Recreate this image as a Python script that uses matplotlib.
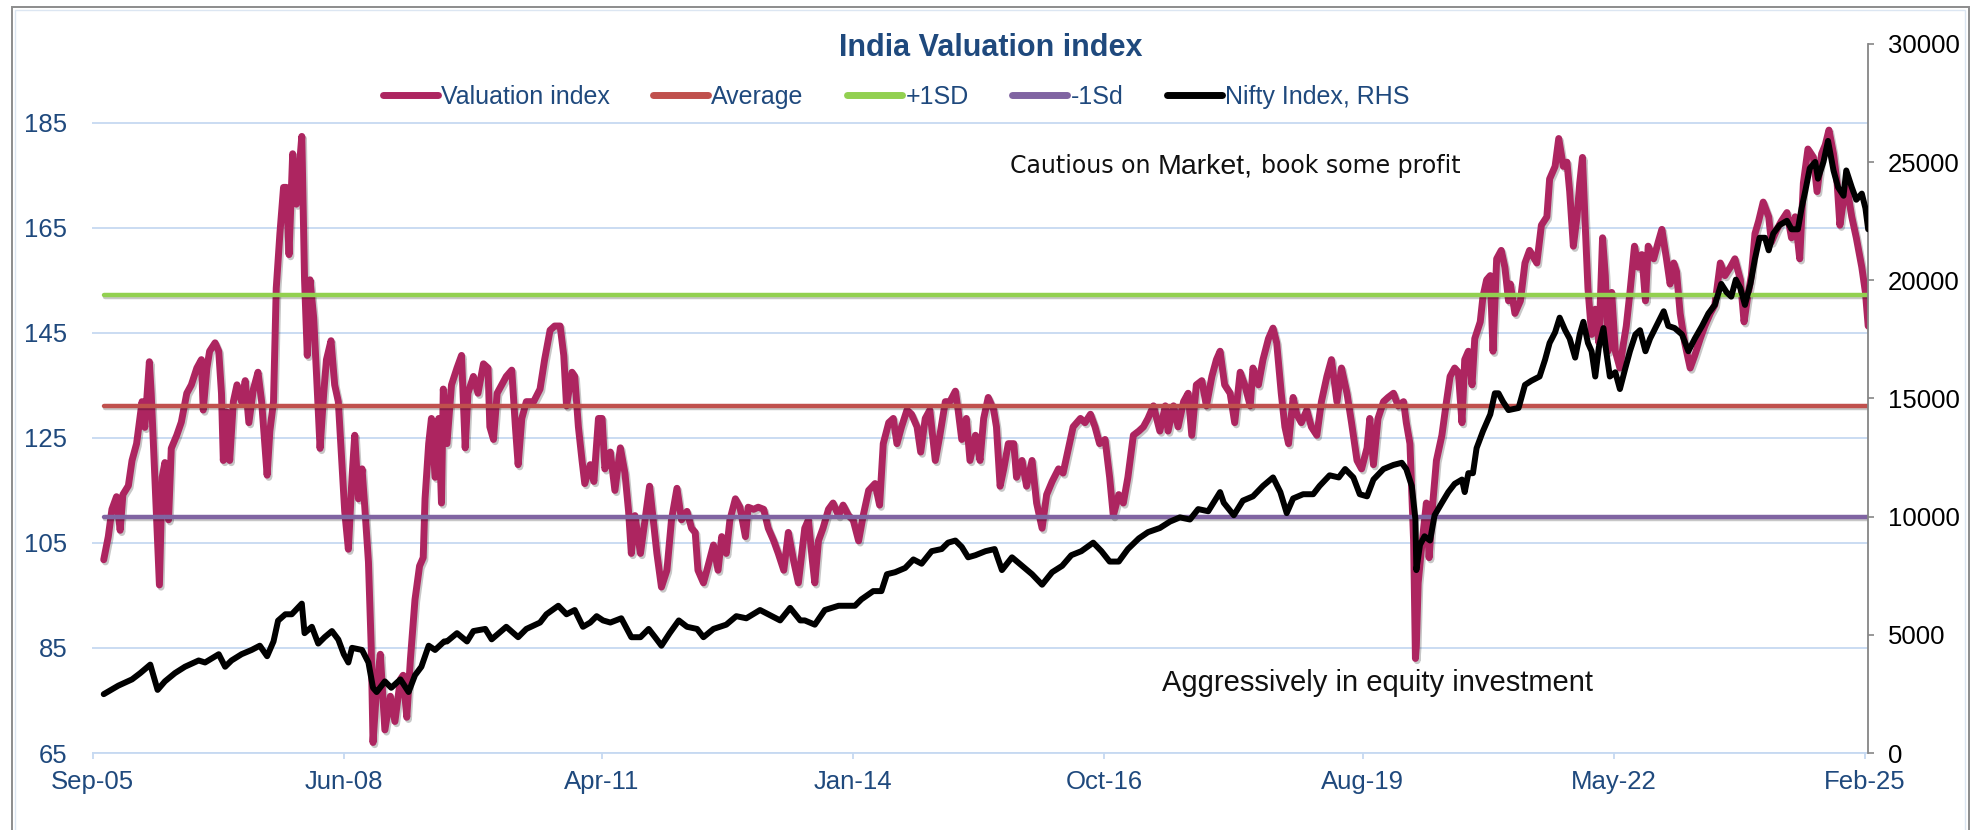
import matplotlib
matplotlib.use("Agg")
import matplotlib.pyplot as plt
import matplotlib.patheffects as pe
from matplotlib.lines import Line2D
from matplotlib.patches import Rectangle

# ---------------- data ----------------
val_years = [
    2005.79, 2005.84, 2005.88, 2005.93, 2005.97, 2006.00, 2006.06, 2006.10, 2006.15, 2006.21,
    2006.24, 2006.29, 2006.31, 2006.35, 2006.40, 2006.43, 2006.46, 2006.50, 2006.53, 2006.59,
    2006.64, 2006.70, 2006.75, 2006.81, 2006.86, 2006.88, 2006.92, 2006.95, 2007.01, 2007.05,
    2007.08, 2007.10, 2007.14, 2007.17, 2007.21, 2007.25, 2007.30, 2007.34, 2007.38, 2007.43,
    2007.48, 2007.52, 2007.58, 2007.61, 2007.65, 2007.68, 2007.72, 2007.76, 2007.79, 2007.82,
    2007.86, 2007.90, 2007.96, 2007.99, 2008.02, 2008.05, 2008.09, 2008.12, 2008.16, 2008.20,
    2008.23, 2008.28, 2008.32, 2008.36, 2008.40, 2008.43, 2008.47, 2008.51, 2008.54, 2008.58,
    2008.62, 2008.65, 2008.69, 2008.72, 2008.74, 2008.78, 2008.82, 2008.87, 2008.93, 2008.98,
    2009.04, 2009.07, 2009.11, 2009.15, 2009.20, 2009.25, 2009.29, 2009.31, 2009.35, 2009.38,
    2009.42, 2009.46, 2009.49, 2009.51, 2009.55, 2009.60, 2009.66, 2009.71, 2009.75, 2009.78,
    2009.84, 2009.89, 2009.95, 2010.00, 2010.02, 2010.06, 2010.10, 2010.15, 2010.20, 2010.26,
    2010.30, 2010.33, 2010.37, 2010.42, 2010.50, 2010.57, 2010.62, 2010.68, 2010.73, 2010.79,
    2010.83, 2010.86, 2010.92, 2010.95, 2010.99, 2011.03, 2011.06, 2011.12, 2011.16, 2011.21,
    2011.25, 2011.28, 2011.34, 2011.39, 2011.45, 2011.50, 2011.54, 2011.57, 2011.61, 2011.67,
    2011.72, 2011.77, 2011.81, 2011.85, 2011.90, 2011.96, 2012.01, 2012.07, 2012.12, 2012.18,
    2012.23, 2012.27, 2012.30, 2012.36, 2012.41, 2012.47, 2012.52, 2012.56, 2012.61, 2012.65,
    2012.71, 2012.76, 2012.82, 2012.85, 2012.91, 2012.96, 2013.02, 2013.07, 2013.13, 2013.18,
    2013.24, 2013.29, 2013.35, 2013.40, 2013.47, 2013.51, 2013.55, 2013.58, 2013.62, 2013.67,
    2013.73, 2013.78, 2013.84, 2013.89, 2013.95, 2014.00, 2014.06, 2014.11, 2014.17, 2014.24,
    2014.29, 2014.33, 2014.39, 2014.44, 2014.48, 2014.53, 2014.59, 2014.64, 2014.70, 2014.74,
    2014.79, 2014.84, 2014.90, 2014.95, 2015.01, 2015.06, 2015.12, 2015.15, 2015.19, 2015.24,
    2015.28, 2015.34, 2015.39, 2015.43, 2015.48, 2015.54, 2015.57, 2015.61, 2015.65, 2015.70,
    2015.76, 2015.79, 2015.85, 2015.90, 2015.96, 2016.01, 2016.07, 2016.12, 2016.18, 2016.25,
    2016.30, 2016.36, 2016.41, 2016.49, 2016.54, 2016.60, 2016.65, 2016.70, 2016.76, 2016.81,
    2016.85, 2016.91, 2016.96, 2017.01, 2017.07, 2017.13, 2017.18, 2017.23, 2017.29, 2017.36,
    2017.42, 2017.45, 2017.51, 2017.56, 2017.62, 2017.67, 2017.71, 2017.76, 2017.82, 2017.87,
    2017.93, 2017.98, 2018.02, 2018.07, 2018.13, 2018.18, 2018.24, 2018.29, 2018.35, 2018.38,
    2018.44, 2018.49, 2018.55, 2018.60, 2018.64, 2018.69, 2018.73, 2018.77, 2018.82, 2018.86,
    2018.91, 2018.97, 2019.02, 2019.08, 2019.13, 2019.19, 2019.24, 2019.30, 2019.35, 2019.41,
    2019.46, 2019.52, 2019.57, 2019.63, 2019.66, 2019.70, 2019.75, 2019.81, 2019.86, 2019.92,
    2019.97, 2020.03, 2020.06, 2020.10, 2020.14, 2020.16, 2020.17, 2020.19, 2020.23, 2020.28,
    2020.31, 2020.35, 2020.39, 2020.45, 2020.50, 2020.54, 2020.59, 2020.63, 2020.67, 2020.70,
    2020.74, 2020.78, 2020.81, 2020.87, 2020.90, 2020.94, 2020.98, 2021.01, 2021.05, 2021.10,
    2021.14, 2021.18, 2021.20, 2021.25, 2021.31, 2021.36, 2021.41, 2021.49, 2021.54, 2021.60,
    2021.63, 2021.69, 2021.73, 2021.78, 2021.82, 2021.85, 2021.89, 2021.93, 2021.96, 2021.99,
    2022.02, 2022.05, 2022.09, 2022.13, 2022.17, 2022.21, 2022.24, 2022.27, 2022.31, 2022.35,
    2022.40, 2022.44, 2022.47, 2022.51, 2022.56, 2022.60, 2022.64, 2022.68, 2022.71, 2022.77,
    2022.82, 2022.86, 2022.91, 2022.95, 2022.99, 2023.02, 2023.06, 2023.11, 2023.17, 2023.22,
    2023.28, 2023.33, 2023.39, 2023.44, 2023.50, 2023.55, 2023.61, 2023.66, 2023.72, 2023.76,
    2023.80, 2023.84, 2023.88, 2023.92, 2023.97, 2024.03, 2024.06, 2024.12, 2024.17, 2024.23,
    2024.28, 2024.32, 2024.37, 2024.41, 2024.46, 2024.52, 2024.56, 2024.61, 2024.65, 2024.69,
    2024.74, 2024.78, 2024.81, 2024.85, 2024.88, 2024.94, 2024.99, 2025.05, 2025.09, 2025.12,
]
val_index = [
    101.8, 106.2, 111.4, 113.8, 107.4, 114.2, 115.9, 120.7, 123.9, 131.9,
    127.0, 139.5, 133.5, 117.5, 97.0, 117.5, 120.3, 109.4, 123.0, 125.5,
    128.0, 133.5, 135.1, 138.3, 139.9, 130.3, 138.3, 141.5, 143.1, 141.5,
    133.5, 120.7, 129.9, 120.7, 131.9, 135.1, 131.9, 135.9, 127.9, 134.3,
    137.5, 131.9, 117.9, 126.3, 131.9, 153.5, 163.9, 172.7, 172.7, 159.9,
    179.1, 169.5, 182.4, 155.1, 140.7, 155.1, 147.9, 137.5, 123.0, 133.5,
    139.9, 143.5, 135.1, 131.9, 119.9, 111.0, 103.8, 117.5, 125.5, 113.4,
    119.1, 111.8, 101.4, 85.4, 67.0, 77.4, 83.8, 69.4, 75.8, 71.0,
    79.0, 79.8, 71.8, 82.9, 94.2, 100.6, 102.2, 113.4, 123.9, 128.7,
    117.5, 128.7, 112.6, 134.3, 123.9, 135.1, 138.3, 140.7, 123.1, 133.5,
    136.7, 133.5, 139.1, 138.3, 127.1, 124.7, 133.5, 135.1, 136.7, 137.9,
    127.1, 119.9, 128.7, 131.9, 131.9, 134.3, 139.9, 145.5, 146.3, 146.3,
    140.7, 131.1, 137.5, 136.7, 127.1, 120.7, 116.3, 119.9, 116.7, 128.7,
    128.7, 119.1, 122.3, 115.0, 123.1, 118.3, 111.0, 103.0, 110.2, 103.0,
    109.4, 115.8, 109.4, 103.0, 96.6, 99.8, 109.4, 115.4, 109.4, 111.0,
    107.8, 107.0, 99.8, 97.4, 100.6, 104.6, 99.8, 106.2, 103.0, 109.4,
    113.4, 111.8, 106.2, 111.8, 111.4, 111.8, 111.4, 107.8, 105.4, 103.0,
    99.8, 107.0, 101.4, 97.4, 107.8, 109.4, 102.2, 97.4, 105.4, 107.8,
    111.4, 112.6, 110.2, 112.2, 110.2, 109.4, 105.4, 110.2, 115.0, 116.3,
    112.2, 123.9, 127.9, 128.7, 123.9, 127.1, 130.3, 129.5, 127.1, 122.3,
    128.7, 130.3, 120.7, 125.5, 131.9, 131.9, 133.9, 130.3, 124.7, 128.7,
    120.7, 125.5, 120.7, 128.7, 132.7, 130.3, 127.1, 115.8, 119.1, 123.9,
    123.9, 117.5, 120.7, 115.8, 120.7, 112.6, 107.8, 114.2, 116.7, 119.1,
    118.3, 123.1, 127.1, 128.7, 127.9, 129.5, 127.1, 123.9, 124.7, 117.5,
    110.2, 114.2, 112.6, 117.5, 125.5, 126.3, 127.1, 128.7, 131.1, 126.3,
    131.1, 126.3, 131.1, 127.1, 131.9, 133.5, 125.5, 135.1, 135.9, 131.1,
    136.7, 139.9, 141.5, 135.1, 133.5, 127.9, 137.5, 135.1, 131.1, 138.3,
    135.1, 139.9, 143.9, 145.9, 143.1, 133.5, 127.1, 123.9, 132.7, 129.5,
    127.9, 130.3, 127.1, 125.5, 131.9, 136.7, 139.9, 131.9, 138.3, 133.5,
    127.9, 120.7, 119.1, 123.1, 128.7, 119.9, 128.7, 131.9, 132.7, 133.5,
    131.1, 131.9, 127.9, 123.9, 105.4, 83.0, 85.4, 97.4, 104.6, 112.6,
    102.2, 112.6, 120.7, 125.5, 131.9, 136.7, 138.3, 137.5, 127.9, 139.9,
    141.5, 135.1, 143.9, 147.1, 151.9, 155.1, 155.9, 141.5, 159.1, 160.7,
    157.5, 151.1, 154.3, 148.7, 151.1, 158.3, 160.7, 158.3, 165.5, 167.1,
    174.3, 176.7, 182.0, 176.7, 177.5, 171.9, 161.5, 167.1, 173.5, 178.4,
    165.5, 153.5, 144.7, 149.5, 143.1, 163.1, 155.9, 141.5, 152.7, 141.5,
    138.3, 143.1, 146.3, 152.7, 161.5, 157.5, 159.9, 151.1, 161.5, 159.1,
    162.3, 164.7, 159.1, 154.3, 158.3, 156.7, 148.7, 143.1, 138.3, 140.7,
    143.9, 146.3, 148.7, 150.3, 158.3, 155.9, 157.5, 159.1, 155.1, 147.1,
    151.9, 155.9, 163.9, 166.3, 169.9, 167.1, 162.3, 164.7, 166.3, 167.9,
    163.1, 167.1, 159.1, 173.5, 180.0, 178.4, 171.9, 179.1, 180.8, 183.6,
    179.1, 173.5, 165.5, 170.3, 173.5, 167.1, 163.1, 157.5, 152.7, 146.3,
]

nifty_years = [
    2005.79, 2005.95, 2006.10, 2006.19, 2006.30, 2006.38, 2006.46, 2006.57, 2006.68, 2006.83,
    2006.90, 2007.05, 2007.12, 2007.19, 2007.30, 2007.41, 2007.50, 2007.58, 2007.65, 2007.70,
    2007.78, 2007.85, 2007.96, 2007.99, 2008.07, 2008.14, 2008.21, 2008.29, 2008.36, 2008.42,
    2008.47, 2008.51, 2008.62, 2008.69, 2008.74, 2008.78, 2008.87, 2008.94, 2009.04, 2009.13,
    2009.20, 2009.27, 2009.35, 2009.42, 2009.52, 2009.55, 2009.66, 2009.77, 2009.84, 2009.97,
    2010.04, 2010.20, 2010.33, 2010.42, 2010.57, 2010.64, 2010.77, 2010.86, 2010.95, 2011.04,
    2011.12, 2011.19, 2011.26, 2011.34, 2011.46, 2011.57, 2011.67, 2011.76, 2011.83, 2011.90,
    2011.99, 2012.09, 2012.18, 2012.29, 2012.36, 2012.47, 2012.61, 2012.72, 2012.83, 2012.98,
    2013.07, 2013.20, 2013.31, 2013.42, 2013.47, 2013.58, 2013.69, 2013.84, 2014.02, 2014.09,
    2014.22, 2014.31, 2014.37, 2014.46, 2014.57, 2014.66, 2014.75, 2014.86, 2014.97, 2015.04,
    2015.12, 2015.19, 2015.26, 2015.34, 2015.45, 2015.55, 2015.63, 2015.74, 2015.85, 2015.96,
    2016.07, 2016.18, 2016.29, 2016.39, 2016.50, 2016.63, 2016.72, 2016.81, 2016.91, 2017.01,
    2017.13, 2017.23, 2017.36, 2017.47, 2017.58, 2017.69, 2017.78, 2017.89, 2018.02, 2018.06,
    2018.17, 2018.27, 2018.38, 2018.49, 2018.60, 2018.68, 2018.75, 2018.82, 2018.93, 2019.04,
    2019.11, 2019.22, 2019.32, 2019.39, 2019.48, 2019.55, 2019.63, 2019.70, 2019.81, 2019.92,
    2020.01, 2020.06, 2020.12, 2020.16, 2020.17, 2020.21, 2020.26, 2020.32, 2020.37, 2020.45,
    2020.52, 2020.59, 2020.67, 2020.70, 2020.74, 2020.79, 2020.83, 2020.90, 2020.98, 2021.03,
    2021.07, 2021.12, 2021.18, 2021.29, 2021.36, 2021.43, 2021.52, 2021.58, 2021.63, 2021.69,
    2021.74, 2021.80, 2021.85, 2021.91, 2021.96, 2022.00, 2022.05, 2022.09, 2022.13, 2022.17,
    2022.22, 2022.25, 2022.29, 2022.35, 2022.40, 2022.46, 2022.51, 2022.57, 2022.62, 2022.68,
    2022.73, 2022.80, 2022.88, 2022.93, 2023.00, 2023.08, 2023.15, 2023.22, 2023.30, 2023.37,
    2023.44, 2023.51, 2023.57, 2023.62, 2023.67, 2023.72, 2023.77, 2023.83, 2023.88, 2023.93,
    2023.99, 2024.03, 2024.08, 2024.15, 2024.23, 2024.28, 2024.35, 2024.39, 2024.43, 2024.48,
    2024.54, 2024.57, 2024.63, 2024.68, 2024.74, 2024.79, 2024.85, 2024.88, 2024.94, 2024.99,
    2025.05, 2025.09, 2025.12,
]
nifty_index = [
    2490, 2850, 3115, 3380, 3740, 2670, 3030, 3380, 3650, 3915,
    3830, 4180, 3650, 3915, 4180, 4360, 4540, 4095, 4720, 5600,
    5870, 5870, 6320, 5070, 5340, 4630, 4900, 5160, 4800, 4180,
    3830, 4450, 4360, 3830, 2760, 2580, 3030, 2760, 3115, 2580,
    3290, 3650, 4540, 4360, 4720, 4720, 5070, 4720, 5160, 5250,
    4810, 5340, 4900, 5250, 5520, 5870, 6230, 5870, 6050, 5340,
    5520, 5790, 5610, 5520, 5700, 4900, 4900, 5250, 4900, 4540,
    5070, 5610, 5340, 5250, 4900, 5250, 5430, 5790, 5700, 6050,
    5870, 5610, 6140, 5610, 5610, 5430, 6050, 6230, 6230, 6500,
    6850, 6850, 7565, 7650, 7830, 8190, 8010, 8540, 8630, 8900,
    8990, 8720, 8280, 8370, 8540, 8630, 7740, 8280, 7920, 7565,
    7120, 7650, 7920, 8370, 8540, 8900, 8540, 8100, 8100, 8630,
    9080, 9345, 9520, 9790, 9970, 9880, 10320, 10230, 11040, 10590,
    10060, 10680, 10860, 11300, 11660, 11040, 10150, 10770, 10950, 10950,
    11300, 11750, 11660, 12015, 11660, 10950, 10860, 11570, 12015, 12190,
    12280, 12015, 11300, 9880, 7740, 8810, 9170, 8990, 10060, 10590,
    11040, 11390, 11570, 11040, 11840, 11840, 12900, 13620, 14330, 15220,
    15220, 14860, 14510, 14600, 15575, 15750, 15930, 16640, 17350, 17800,
    18420, 17890, 17530, 16730, 17710, 18245, 17350, 17000, 15930, 17180,
    17980, 17000, 15930, 16110, 15400, 16290, 17000, 17710, 17890, 17000,
    17530, 18070, 18690, 18070, 17980, 17710, 17000, 17530, 18070, 18600,
    18960, 19850, 19490, 19310, 20030, 19670, 18960, 19850, 20920, 21800,
    21800, 21270, 21980, 22340, 22520, 22160, 22160, 23050, 23760, 24740,
    25010, 24300, 25010, 25900, 24650, 23940, 23580, 24650, 23940, 23410,
    23670, 23050, 22160,
]

average = 131.1
plus_1sd = 152.3
minus_1sd = 109.9

tick_years = [2005.667, 2008.417, 2011.25, 2014.0, 2016.75, 2019.583, 2022.333, 2025.083]
tick_labels = ["Sep-05", "Jun-08", "Apr-11", "Jan-14", "Oct-16", "Aug-19", "May-22", "Feb-25"]
left_ticks = [65, 85, 105, 125, 145, 165, 185]
right_ticks = [0, 5000, 10000, 15000, 20000, 25000, 30000]

# ---------------- style ----------------
plt.rcParams["font.family"] = ["Liberation Sans", "DejaVu Sans"]
NAVY = "#1F497D"
GRID = "#C6D9F1"
C_VAL = "#AD2560"
C_AVG = "#C0504D"
C_UP = "#92D050"
C_DN = "#8064A2"

W, H = 1981, 830
fig = plt.figure(figsize=(W / 100, H / 100), dpi=100)
fig.patch.set_facecolor("white")

# frame around the chart
fig.patches.append(Rectangle((12 / W, -0.1), 1957 / W, 1.1 - 7 / H, transform=fig.transFigure,
                             fill=False, edgecolor="#8C8C8C", lw=1.4))
fig.patches.append(Rectangle((15.5 / W, -0.1), 1950 / W, 1.1 - 10.5 / H, transform=fig.transFigure,
                             fill=False, edgecolor="#DCE6F2", lw=1.0))

x0, x1 = 92.5, 1868
y_top, y_bot = 44, 753
ax = fig.add_axes([x0 / W, 1 - y_bot / H, (x1 - x0) / W, (y_bot - y_top) / H])
ax.set_xlim(2005.667, 2025.118)
ax.set_ylim(65, 200)
ax.patch.set_alpha(0)

shadow = [pe.SimpleLineShadow(offset=(1.2, -1.6), shadow_color="black", alpha=0.22), pe.Normal()]

ax.plot(val_years, val_index, color=C_VAL, lw=5.0, solid_joinstyle="round",
        solid_capstyle="round", path_effects=shadow, zorder=3)
span = [val_years[0], val_years[-1]]
ax.plot(span, [average] * 2, color=C_AVG, lw=3.2, solid_capstyle="round", path_effects=shadow, zorder=4)
ax.plot(span, [plus_1sd] * 2, color=C_UP, lw=3.2, solid_capstyle="round", path_effects=shadow, zorder=4)
ax.plot(span, [minus_1sd] * 2, color=C_DN, lw=3.2, solid_capstyle="round", path_effects=shadow, zorder=4)

ax.set_yticks(left_ticks)
ax.yaxis.grid(True, color=GRID, lw=1.3)
ax.set_axisbelow(True)
ax.tick_params(axis="y", length=0, pad=18, labelsize=18.5, labelcolor=NAVY)
ax.set_xticks(tick_years, tick_labels)
ax.tick_params(axis="x", direction="out", length=4, width=1.3, color=GRID, pad=8,
               labelsize=18.5, labelcolor=NAVY)
for s in ["left", "right", "top"]:
    ax.spines[s].set_visible(False)
ax.spines["bottom"].set_color(GRID)
ax.spines["bottom"].set_linewidth(1.3)

ax2 = ax.twinx()
ax2.set_ylim(0, 30000)
ax2.plot(nifty_years, nifty_index, color="black", lw=4.3, solid_joinstyle="round",
         solid_capstyle="round", zorder=5)
ax2.set_yticks(right_ticks, [str(t) for t in right_ticks])
ax2.tick_params(axis="y", direction="out", length=4, width=1.2, color="#868686", pad=10.5,
                labelsize=18.5, labelcolor="black")
for s in ["left", "top", "bottom"]:
    ax2.spines[s].set_visible(False)
ax2.spines["right"].set_color("#868686")
ax2.spines["right"].set_linewidth(1.3)

# annotations
ax.text(2015.72, 175.4, "Cautious on", fontfamily="DejaVu Sans", fontsize=17, va="baseline", color="#111111")
ax.text(2017.34, 175.4, "Market,", fontfamily="Liberation Sans", fontsize=20.5, va="baseline", color="#111111")
ax.text(2018.47, 175.4, "book some profit", fontfamily="DejaVu Sans", fontsize=17, va="baseline", color="#111111")
ax.text(2017.38, 76.8, "Aggressively in equity investment", fontfamily="Liberation Sans", fontsize=21,
        va="baseline", color="#111111")

# title
fig.text(991 / W, 1 - 48 / H, "India Valuation index", ha="center", va="center",
         fontsize=22, fontweight="bold", color=NAVY)

# legend
handles = [
    Line2D([], [], color=C_VAL, lw=5, solid_capstyle="round"),
    Line2D([], [], color=C_AVG, lw=5, solid_capstyle="round"),
    Line2D([], [], color=C_UP, lw=5, solid_capstyle="round"),
    Line2D([], [], color=C_DN, lw=5, solid_capstyle="round"),
    Line2D([], [], color="black", lw=5, solid_capstyle="round"),
]
labels = ["Valuation index", "Average", "+1SD", "-1Sd", "Nifty Index, RHS"]
fig.legend(handles, labels, loc="center", bbox_to_anchor=(896 / W, 1 - 97 / H), ncol=5,
           frameon=False, fontsize=18, handlelength=2.2, handletextpad=0.12,
           columnspacing=1.75, labelcolor=NAVY)

fig.savefig("out.png", dpi=100, facecolor="white")
